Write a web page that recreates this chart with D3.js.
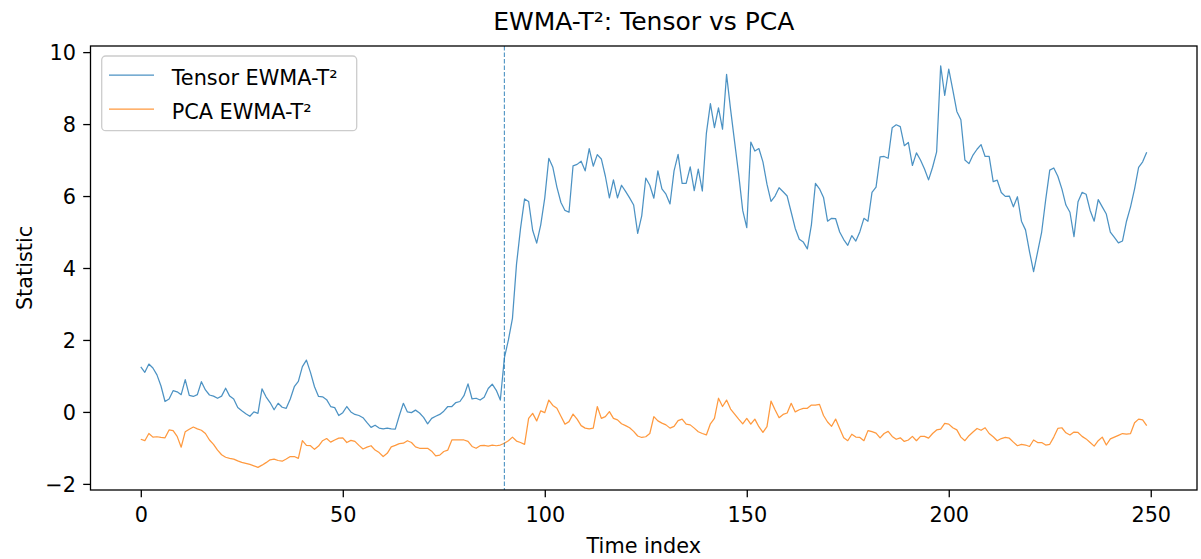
<!DOCTYPE html>
<html>
<head>
<meta charset="utf-8">
<script src="https://cdn.jsdelivr.net/npm/d3@7"></script>
<style>
    body { margin: 0; background: #ffffff; }
    text { font-family: "DejaVu Sans", sans-serif; fill: #000; }
</style>
</head>
<body>
<svg id="chart"></svg>
<script>
// 数据：近似值
const tensorValues = [
    1.25, 1.1, 1.33, 1.22, 1.03, 0.72, 0.29, 0.36, 0.59, 0.56,
    0.48, 0.9, 0.46, 0.43, 0.48, 0.84, 0.61, 0.47, 0.44, 0.38,
    0.44, 0.66, 0.44, 0.36, 0.12, 0.03, -0.05, -0.12, 0.0, -0.04,
    0.64, 0.42, 0.26, 0.06, 0.24, 0.13, 0.1, 0.36, 0.7, 0.85,
    1.26, 1.44, 1.1, 0.7, 0.43, 0.42, 0.34, 0.15, 0.12, -0.1,
    -0.02, 0.15, 0.0, -0.07, -0.1, -0.16, -0.3, -0.43, -0.37, -0.45,
    -0.47, -0.45, -0.47, -0.48, -0.1, 0.24, 0.0, -0.02, 0.05, -0.03,
    -0.15, -0.33, -0.18, -0.12, -0.07, 0.02, 0.15, 0.15, 0.26, 0.29,
    0.45, 0.78, 0.36, 0.38, 0.33, 0.41, 0.65, 0.77, 0.6, 0.33,
    1.5, 2.0, 2.6, 4.1, 5.1, 5.92, 5.85, 5.05, 4.69, 5.2,
    5.95, 7.05, 6.8, 6.25, 5.82, 5.6, 5.55, 6.84, 6.88, 6.97,
    6.7, 7.32, 6.83, 7.15, 7.03, 6.55, 5.95, 6.45, 5.95, 6.3,
    6.13, 5.95, 5.75, 4.96, 5.45, 6.5, 6.3, 5.94, 6.7, 6.2,
    6.05, 5.78, 6.7, 7.16, 6.35, 6.35, 6.81, 6.15, 6.75, 6.14,
    7.74, 8.57, 7.9, 8.45, 7.86, 9.38, 8.4, 7.5, 6.6, 5.6,
    5.12, 7.5, 7.25, 7.32, 6.95, 6.33, 5.85, 6.0, 6.23, 6.12,
    6.0, 5.55, 5.1, 4.8, 4.72, 4.53, 5.2, 6.35, 6.2, 5.96,
    5.3, 5.38, 5.37, 5.0, 4.79, 4.63, 4.9, 4.75, 5.01, 5.38,
    5.3, 6.1, 6.25, 7.09, 7.1, 7.05, 7.9, 7.98, 7.93, 7.4,
    7.49, 6.85, 7.2, 7.0, 6.75, 6.45, 6.8, 7.23, 9.62, 8.8,
    9.53, 8.95, 8.35, 8.12, 7.0, 6.9, 7.14, 7.3, 7.43, 7.1,
    7.1, 6.4, 6.44, 6.1, 5.99, 6.0, 5.7, 5.98, 5.3, 5.06,
    4.45, 3.9, 4.45, 5.0, 5.9, 6.72, 6.78, 6.55, 6.2, 5.75,
    5.55, 4.87, 5.84, 6.1, 6.05, 5.6, 5.3, 5.9, 5.7, 5.5,
    5.0, 4.85, 4.7, 4.75, 5.3, 5.7, 6.2, 6.8, 6.95, 7.22
];

const pcaValues = [
    -0.76, -0.8, -0.6, -0.7, -0.69, -0.71, -0.72, -0.5, -0.52, -0.68,
    -0.98, -0.55, -0.48, -0.42, -0.47, -0.51, -0.6, -0.78, -0.9, -1.06,
    -1.19, -1.26, -1.29, -1.31, -1.36, -1.4, -1.43, -1.46, -1.5, -1.54,
    -1.48, -1.41, -1.33, -1.31, -1.35, -1.37, -1.31, -1.24, -1.24, -1.29,
    -0.8, -0.93, -0.94, -1.04, -0.95, -0.8, -0.74, -0.84, -0.78, -0.73,
    -0.72, -0.85, -0.79, -0.82, -0.93, -1.03, -0.98, -0.94, -1.06, -1.13,
    -1.24, -1.15, -0.97, -0.93, -0.88, -0.87, -0.8, -0.85, -0.97, -1.01,
    -1.01, -1.01, -1.09, -1.22, -1.2, -1.1, -1.06, -0.78, -0.78, -0.78,
    -0.78, -0.82, -0.96, -1.01, -0.94, -0.93, -0.95, -0.92, -0.94, -0.92,
    -0.87, -0.8, -0.7, -0.81, -0.85, -0.9, -0.18, -0.04, -0.25, 0.03,
    -0.02, 0.33, 0.18, 0.1, -0.12, -0.34, -0.27, -0.06, -0.2, -0.38,
    -0.45, -0.47, -0.45, 0.15, -0.18, -0.13, 0.01, -0.18, -0.22, -0.33,
    -0.38, -0.44, -0.54, -0.67, -0.71, -0.69, -0.6, -0.13, -0.25, -0.31,
    -0.36, -0.45, -0.4, -0.24, -0.2, -0.34, -0.36, -0.45, -0.55, -0.6,
    -0.64, -0.33, -0.18, 0.38, 0.15, 0.33, 0.08, -0.06, -0.2, -0.33,
    -0.18, -0.34, -0.2, -0.41, -0.57, -0.41, 0.3, 0.06, -0.16, -0.07,
    -0.03, 0.24, 0.0, 0.06, 0.1, 0.1, 0.19, 0.19, 0.21, -0.1,
    -0.28, -0.4, -0.2, -0.46, -0.72, -0.8, -0.62, -0.7, -0.71, -0.8,
    -0.52, -0.55, -0.59, -0.72, -0.6, -0.54, -0.68, -0.76, -0.72, -0.82,
    -0.78, -0.68, -0.8, -0.68, -0.68, -0.73, -0.6, -0.5, -0.48, -0.32,
    -0.34, -0.44, -0.5, -0.7, -0.8, -0.66, -0.56, -0.46, -0.51, -0.44,
    -0.6, -0.69, -0.8, -0.74, -0.71, -0.73, -0.84, -0.94, -0.9, -0.92,
    -0.96, -0.78, -0.85, -0.85, -0.92, -0.9, -0.7, -0.46, -0.44, -0.58,
    -0.64, -0.56, -0.57, -0.68, -0.75, -0.85, -0.95, -0.8, -0.7, -0.92,
    -0.75, -0.7, -0.65, -0.6, -0.62, -0.6, -0.3, -0.2, -0.22, -0.38
];

const xTicks = [0, 50, 100, 150, 200, 250];
const yTicks = [-2, 0, 2, 4, 6, 8, 10];
const changePoint = 90;
const seriesNames = ['Tensor EWMA-T²', 'PCA EWMA-T²'];
const seriesColors = ['#1f77b4', '#ff7f0e'];

const width = 1201;
const height = 559;
const margin = { top: 46, right: 4, bottom: 69, left: 90.5 };
const innerW = width - margin.left - margin.right;
const innerH = height - margin.top - margin.bottom;
const fontSize = 20.8;

const svg = d3.select('#chart')
    .attr('width', width)
    .attr('height', height)
    .style('background', '#ffffff');

const n = tensorValues.length;
const pad = (n - 1) * 0.05;

const x = d3.scaleLinear()
    .domain([-pad, n - 1 + pad])
    .range([0, innerW]);

const y = d3.scaleLinear()
    .domain([-2.17, 10.17])
    .range([innerH, 0]);

const g = svg.append('g')
    .attr('transform', `translate(${margin.left},${margin.top})`);

// 折线
const line = d3.line()
    .x((d, i) => x(i))
    .y(d => y(d));

[tensorValues, pcaValues].forEach((values, k) => {
    g.append('path')
        .datum(values)
        .attr('d', line)
        .attr('fill', 'none')
        .attr('stroke', seriesColors[k])
        .attr('stroke-opacity', 0.8)
        .attr('stroke-width', 1.25)
        .attr('stroke-linejoin', 'round');
});

// 变化点竖线
g.append('line')
    .attr('x1', x(changePoint))
    .attr('x2', x(changePoint))
    .attr('y1', 0)
    .attr('y2', innerH)
    .attr('stroke', seriesColors[0])
    .attr('stroke-opacity', 0.8)
    .attr('stroke-width', 1.1)
    .attr('stroke-dasharray', '4.5,2');

// 坐标轴
const xAxis = d3.axisBottom(x)
    .tickValues(xTicks)
    .tickSize(7.3)
    .tickSizeOuter(0)
    .tickPadding(7.3);

const yAxis = d3.axisLeft(y)
    .tickValues(yTicks)
    .tickSize(7.3)
    .tickSizeOuter(0)
    .tickPadding(7.3);

const gx = g.append('g')
    .attr('transform', `translate(0,${innerH})`)
    .call(xAxis);

const gy = g.append('g').call(yAxis);

[gx, gy].forEach(ax => {
    ax.select('.domain').remove();
    ax.selectAll('.tick line')
        .attr('stroke', '#000')
        .attr('stroke-width', 1.3);
    ax.selectAll('.tick text')
        .style('font-family', '"DejaVu Sans", sans-serif')
        .style('font-size', fontSize + 'px')
        .attr('fill', '#000');
});

gx.selectAll('.tick text')
    .attr('dy', null)
    .attr('y', 521.5 - (margin.top + innerH));

gy.selectAll('.tick text')
    .attr('dy', '0.36em');

// 边框
g.append('rect')
    .attr('x', 0)
    .attr('y', 0)
    .attr('width', innerW)
    .attr('height', innerH)
    .attr('fill', 'none')
    .attr('stroke', '#000')
    .attr('stroke-width', 1.3);

// 标题和轴标签
svg.append('text')
    .attr('x', margin.left + innerW / 2)
    .attr('y', 30)
    .attr('text-anchor', 'middle')
    .style('font-size', '25px')
    .text('EWMA-T²: Tensor vs PCA');

svg.append('text')
    .attr('x', margin.left + innerW / 2)
    .attr('y', 553)
    .attr('text-anchor', 'middle')
    .style('font-size', fontSize + 'px')
    .text('Time index');

svg.append('text')
    .attr('transform', `translate(32,${margin.top + innerH / 2}) rotate(-90)`)
    .attr('text-anchor', 'middle')
    .style('font-size', fontSize + 'px')
    .text('Statistic');

// 图例
const legend = svg.append('g');

legend.append('rect')
    .attr('x', 101.7)
    .attr('y', 56)
    .attr('width', 255)
    .attr('height', 74.7)
    .attr('rx', 4)
    .attr('fill', '#ffffff')
    .attr('fill-opacity', 0.8)
    .attr('stroke', '#cccccc')
    .attr('stroke-width', 1.3);

seriesNames.forEach((name, k) => {
    const cy = 75 + k * 34;
    legend.append('line')
        .attr('x1', 109)
        .attr('x2', 154)
        .attr('y1', cy)
        .attr('y2', cy)
        .attr('stroke', seriesColors[k])
        .attr('stroke-opacity', 0.8)
        .attr('stroke-width', 1.25);
    legend.append('text')
        .attr('x', 171.7)
        .attr('y', cy + 9.5)
        .style('font-size', fontSize + 'px')
        .text(name);
});
</script>
</body>
</html>
